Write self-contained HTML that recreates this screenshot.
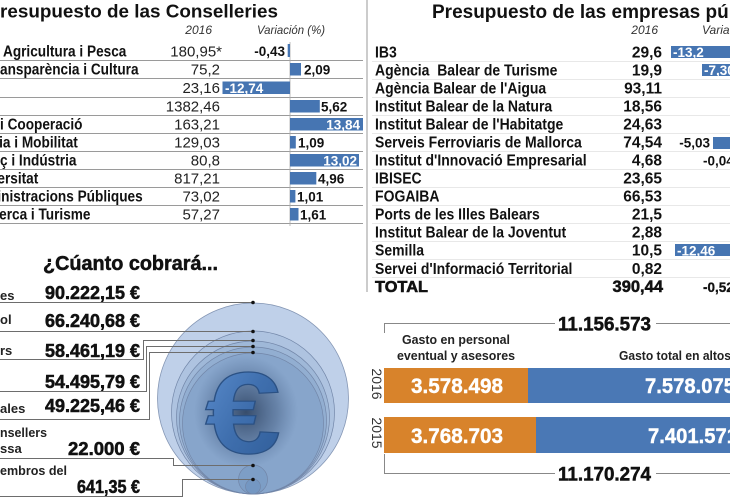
<!DOCTYPE html>
<html><head><meta charset="utf-8"><style>
html,body{margin:0;padding:0;background:#fff;}
svg{display:block;}
</style></head><body>
<svg width="730" height="500" viewBox="0 0 730 500" xmlns="http://www.w3.org/2000/svg" font-family="'Liberation Sans', sans-serif">
<defs>
<radialGradient id="glow" cx="0.5" cy="0.5" r="0.5">
<stop offset="0" stop-color="#1c2f4c" stop-opacity="0.75"/>
<stop offset="0.6" stop-color="#2a4266" stop-opacity="0.35"/>
<stop offset="1" stop-color="#3a5680" stop-opacity="0"/>
</radialGradient>
<linearGradient id="eur" x1="0" y1="0" x2="1" y2="1">
<stop offset="0" stop-color="#5d8fd0"/>
<stop offset="0.5" stop-color="#3f6fae"/>
<stop offset="1" stop-color="#2e5b96"/>
</linearGradient>
</defs>
<rect width="730" height="500" fill="#fff"/>

<!-- ===== LEFT TABLE ===== -->
<text x="0" y="17.5" font-size="18.5" font-weight="bold" fill="#111" textLength="278" lengthAdjust="spacingAndGlyphs">resupuesto de las Conselleries</text>
<text x="212" y="34" font-size="12" font-style="italic" fill="#333" text-anchor="end">2016</text>
<text x="257" y="34" font-size="12" font-style="italic" fill="#333" textLength="68" lengthAdjust="spacingAndGlyphs">Variación (%)</text>

<g stroke="#9a9a9a" stroke-width="1">
<line x1="0" y1="60.5" x2="363" y2="60.5"/>
<line x1="0" y1="78.5" x2="363" y2="78.5"/>
<line x1="0" y1="97.5" x2="363" y2="97.5"/>
<line x1="0" y1="115.5" x2="363" y2="115.5"/>
<line x1="0" y1="133.5" x2="363" y2="133.5"/>
<line x1="0" y1="151.5" x2="363" y2="151.5"/>
<line x1="0" y1="169.5" x2="363" y2="169.5"/>
<line x1="0" y1="187.5" x2="363" y2="187.5"/>
<line x1="0" y1="205.5" x2="363" y2="205.5"/>
<line x1="0" y1="223.5" x2="363" y2="223.5"/>
</g>
<line x1="290" y1="42" x2="290" y2="226" stroke="#aaa" stroke-width="0.8"/>
<line x1="367" y1="0" x2="367" y2="292" stroke="#999" stroke-width="1"/>

<g transform="scale(0.88,1)" font-size="15.5" font-weight="bold" fill="#111">
<text x="3.4" y="56.5">Agricultura i Pesca</text>
<text x="0" y="74.5">ansparència i Cultura</text>
<text x="0" y="129.5">i Cooperació</text>
<text x="-1" y="147.5">ia i Mobilitat</text>
<text x="0" y="165.5">ç i Indústria</text>
<text x="-3" y="183.5">ersitat</text>
<text x="-3" y="201.5">inistracions Públiques</text>
<text x="-1" y="219.5">erca i Turisme</text>
</g>

<g font-size="15" fill="#222" text-anchor="end">
<text x="222" y="56.5">180,95*</text>
<text x="220" y="74.5">75,2</text>
<text x="220" y="93">23,16</text>
<text x="220" y="111.5">1382,46</text>
<text x="220" y="129.5">163,21</text>
<text x="220" y="147.5">129,03</text>
<text x="220" y="165.5">80,8</text>
<text x="220" y="183.5">817,21</text>
<text x="220" y="201.5">73,02</text>
<text x="220" y="219.5">57,27</text>
</g>

<g fill="#4675b2">
<rect x="287.7" y="44" width="2.3" height="13"/>
<rect x="290" y="63" width="11" height="12.5"/>
<rect x="222.5" y="81.5" width="67.5" height="12.5"/>
<rect x="290" y="100" width="29.8" height="12.5"/>
<rect x="290" y="118" width="73" height="12.5"/>
<rect x="290" y="136" width="5.8" height="12.5"/>
<rect x="290" y="154" width="69" height="12.5"/>
<rect x="290" y="172" width="26.3" height="12.5"/>
<rect x="290" y="190" width="5.4" height="12.5"/>
<rect x="290" y="208" width="8.5" height="12.5"/>
</g>
<g font-size="13.5" font-weight="bold" fill="#111">
<text x="285" y="56" text-anchor="end">-0,43</text>
<text x="304" y="74.5">2,09</text>
<text x="225" y="93" fill="#fff">-12,74</text>
<text x="321" y="111.5">5,62</text>
<text x="360" y="129.5" fill="#fff" text-anchor="end">13,84</text>
<text x="298" y="147.5">1,09</text>
<text x="357" y="165.5" fill="#fff" text-anchor="end">13,02</text>
<text x="318" y="183.5">4,96</text>
<text x="297" y="201.5">1,01</text>
<text x="300" y="219.5">1,61</text>
</g>

<!-- ===== RIGHT TABLE ===== -->
<text x="432" y="18" font-size="19" font-weight="bold" fill="#111">Presupuesto de las empresas públicas</text>
<text x="658" y="34" font-size="12" font-style="italic" fill="#333" text-anchor="end">2016</text>
<text x="702" y="34" font-size="12" font-style="italic" fill="#333">Variación (%)</text>

<g stroke="#e8e8e8" stroke-width="1">
<line x1="372" y1="61.5" x2="730" y2="61.5"/>
<line x1="372" y1="79.5" x2="730" y2="79.5"/>
<line x1="372" y1="97.5" x2="730" y2="97.5"/>
<line x1="372" y1="115.5" x2="730" y2="115.5"/>
<line x1="372" y1="133.5" x2="730" y2="133.5"/>
<line x1="372" y1="151.5" x2="730" y2="151.5"/>
<line x1="372" y1="169.5" x2="730" y2="169.5"/>
<line x1="372" y1="187.5" x2="730" y2="187.5"/>
<line x1="372" y1="205.5" x2="730" y2="205.5"/>
<line x1="372" y1="223.5" x2="730" y2="223.5"/>
<line x1="372" y1="241.5" x2="730" y2="241.5"/>
<line x1="372" y1="259.5" x2="730" y2="259.5"/>
<line x1="372" y1="277.5" x2="730" y2="277.5"/>
</g>

<g transform="scale(0.875,1)" font-size="16" font-weight="bold" fill="#111">
<text x="428.6" y="57.5">IB3</text>
<text x="428.6" y="75.5">Agència&#160; Balear de Turisme</text>
<text x="428.6" y="93.5">Agència Balear de l'Aigua</text>
<text x="428.6" y="111.5">Institut Balear de la Natura</text>
<text x="428.6" y="129.5">Institut Balear de l'Habitatge</text>
<text x="428.6" y="147.6">Serveis Ferroviaris de Mallorca</text>
<text x="428.6" y="165.6">Institut d'Innovació Empresarial</text>
<text x="428.6" y="183.6">IBISEC</text>
<text x="428.6" y="201.7">FOGAIBA</text>
<text x="428.6" y="219.7">Ports de les Illes Balears</text>
<text x="428.6" y="237.7">Institut Balear de la Joventut</text>
<text x="428.6" y="255.7">Semilla</text>
<text x="428.6" y="273.8">Servei d'Informació Territorial</text>
</g>
<text x="375" y="291.8" font-size="16" font-weight="bold" fill="#111" stroke="#111" stroke-width="0.6" textLength="53" lengthAdjust="spacingAndGlyphs">TOTAL</text>

<g font-size="15.5" font-weight="bold" fill="#111" text-anchor="end">
<text x="662" y="57.5">29,6</text>
<text x="662" y="75.5">19,9</text>
<text x="662" y="93.5">93,11</text>
<text x="662" y="111.5">18,56</text>
<text x="662" y="129.5">24,63</text>
<text x="662" y="147.6">74,54</text>
<text x="662" y="165.6">4,68</text>
<text x="662" y="183.6">23,65</text>
<text x="662" y="201.7">66,53</text>
<text x="662" y="219.7">21,5</text>
<text x="662" y="237.7">2,88</text>
<text x="662" y="255.7">10,5</text>
<text x="662" y="273.8">0,82</text>
<text x="663" y="291.8" font-size="16.5" stroke="#111" stroke-width="0.5">390,44</text>
</g>

<g fill="#4675b2">
<rect x="671" y="46" width="60" height="12"/>
<rect x="702" y="64" width="29" height="12"/>
<rect x="713" y="137" width="18" height="12"/>
<rect x="675" y="244" width="56" height="12"/>
</g>
<g font-size="13.5" font-weight="bold" fill="#111">
<text x="673" y="57" fill="#fff">-13,2</text>
<text x="704" y="75" fill="#fff">-7,30</text>
<text x="710" y="147.6" text-anchor="end">-5,03</text>
<text x="703" y="165.6">-0,04</text>
<text x="677" y="255.5" fill="#fff">-12,46</text>
<text x="703" y="291.8" stroke="#111" stroke-width="0.3">-0,52</text>
</g>

<!-- ===== CUANTO COBRARA ===== -->
<text x="43" y="270" font-size="20" font-weight="bold" fill="#111" stroke="#111" stroke-width="0.5" textLength="175" lengthAdjust="spacingAndGlyphs">¿Cúanto cobrará...</text>

<!-- circles -->
<circle cx="253" cy="398.5" r="95.5" fill="#bfd0e9" stroke="#8496b4" stroke-width="0.8"/>
<g fill="#3d6aa8" fill-opacity="0.12" stroke="#7286a8" stroke-width="0.7">
<circle cx="253" cy="412.5" r="81.5"/>
<circle cx="253" cy="417.5" r="76.5"/>
<circle cx="253" cy="420.5" r="73.5"/>
<circle cx="253" cy="423.5" r="70.5"/>
<circle cx="253" cy="479.5" r="14.5"/>
<circle cx="253" cy="486.5" r="7.5"/>
</g>
<ellipse cx="246" cy="412" rx="52" ry="56" fill="url(#glow)"/>
<text x="205" y="453" font-size="116" font-weight="bold" fill="url(#eur)" stroke="#2b5184" stroke-width="1.2" textLength="76" lengthAdjust="spacingAndGlyphs">€</text>

<!-- leader lines -->
<g fill="none" stroke="#6d6d6d" stroke-width="1">
<polyline points="0,302.5 253,302.5"/>
<polyline points="0,331.5 253,331.5"/>
<polyline points="0,359.5 143.5,359.5 143.5,340.5 253,340.5"/>
<polyline points="0,391.5 146.5,391.5 146.5,346.5 253,346.5"/>
<polyline points="0,419.5 149.5,419.5 149.5,352.5 253,352.5"/>
<polyline points="0,458.5 173.5,458.5 173.5,465.5 253,465.5"/>
<polyline points="0,496.5 182.5,496.5 182.5,479.5 253,479.5"/>
</g>
<g fill="#111">
<circle cx="253" cy="302.5" r="1.8"/>
<circle cx="253" cy="331.5" r="1.8"/>
<circle cx="253" cy="340.5" r="1.8"/>
<circle cx="253" cy="346.5" r="1.8"/>
<circle cx="253" cy="352.5" r="1.8"/>
<circle cx="253" cy="465.5" r="1.8"/>
<circle cx="253" cy="479.5" r="1.8"/>
</g>

<g font-size="13" font-weight="bold" fill="#222">
<text x="0" y="300">es</text>
<text x="0" y="324">ol</text>
<text x="0" y="355">rs</text>
<text x="0" y="413">ales</text>
<text x="0" y="437" textLength="47" lengthAdjust="spacingAndGlyphs">nsellers</text>
<text x="0" y="453">ssa</text>
<text x="0" y="475" textLength="67" lengthAdjust="spacingAndGlyphs">embros del</text>
</g>
<g font-size="18" font-weight="bold" fill="#111" stroke="#111" stroke-width="0.55" text-anchor="end">
<text x="140" y="299" textLength="95" lengthAdjust="spacingAndGlyphs">90.222,15 €</text>
<text x="140" y="327" textLength="95" lengthAdjust="spacingAndGlyphs">66.240,68 €</text>
<text x="140" y="357" textLength="95" lengthAdjust="spacingAndGlyphs">58.461,19 €</text>
<text x="140" y="388" textLength="95" lengthAdjust="spacingAndGlyphs">54.495,79 €</text>
<text x="140" y="412" textLength="95" lengthAdjust="spacingAndGlyphs">49.225,46 €</text>
<text x="140" y="455" textLength="72" lengthAdjust="spacingAndGlyphs">22.000 €</text>
<text x="140" y="493" textLength="63" lengthAdjust="spacingAndGlyphs">641,35 €</text>
</g>

<!-- ===== BOTTOM RIGHT ===== -->
<g fill="none" stroke="#888" stroke-width="1">
<polyline points="384.5,333 384.5,323.5 555,323.5"/>
<line x1="656" y1="323.5" x2="730" y2="323.5"/>
<polyline points="384.5,454 384.5,473.5 555,473.5"/>
<line x1="656" y1="473.5" x2="730" y2="473.5"/>
</g>
<g font-size="19" font-weight="bold" fill="#111" stroke="#111" stroke-width="0.5">
<text x="558" y="330.5" textLength="93" lengthAdjust="spacingAndGlyphs">11.156.573</text>
<text x="558" y="480.5" textLength="93" lengthAdjust="spacingAndGlyphs">11.170.274</text>
</g>
<g font-size="13" font-weight="bold" fill="#222">
<text x="456" y="344" text-anchor="middle" textLength="108" lengthAdjust="spacingAndGlyphs">Gasto en personal</text>
<text x="397" y="360" textLength="118" lengthAdjust="spacingAndGlyphs">eventual y asesores</text>
<text x="619" y="360" textLength="112" lengthAdjust="spacingAndGlyphs">Gasto total en altos</text>
</g>

<rect x="384" y="368" width="144" height="35" fill="#d8832b"/>
<rect x="528" y="368" width="202" height="35" fill="#4a78b5"/>
<rect x="384" y="417" width="152" height="36" fill="#d8832b"/>
<rect x="536" y="417" width="194" height="36" fill="#4a78b5"/>

<g font-size="21" font-weight="bold" fill="#fff" stroke="#fff" stroke-width="0.4">
<text x="411" y="393" textLength="92" lengthAdjust="spacingAndGlyphs">3.578.498</text>
<text x="645" y="393" textLength="90" lengthAdjust="spacingAndGlyphs">7.578.075</text>
<text x="411" y="443" textLength="92" lengthAdjust="spacingAndGlyphs">3.768.703</text>
<text x="648" y="443" textLength="90" lengthAdjust="spacingAndGlyphs">7.401.571</text>
</g>

<text transform="translate(377,384) rotate(90)" x="0" y="5" font-size="14" fill="#333" text-anchor="middle">2016</text>
<text transform="translate(377,433) rotate(90)" x="0" y="5" font-size="14" fill="#333" text-anchor="middle">2015</text>
</svg>
</body></html>
